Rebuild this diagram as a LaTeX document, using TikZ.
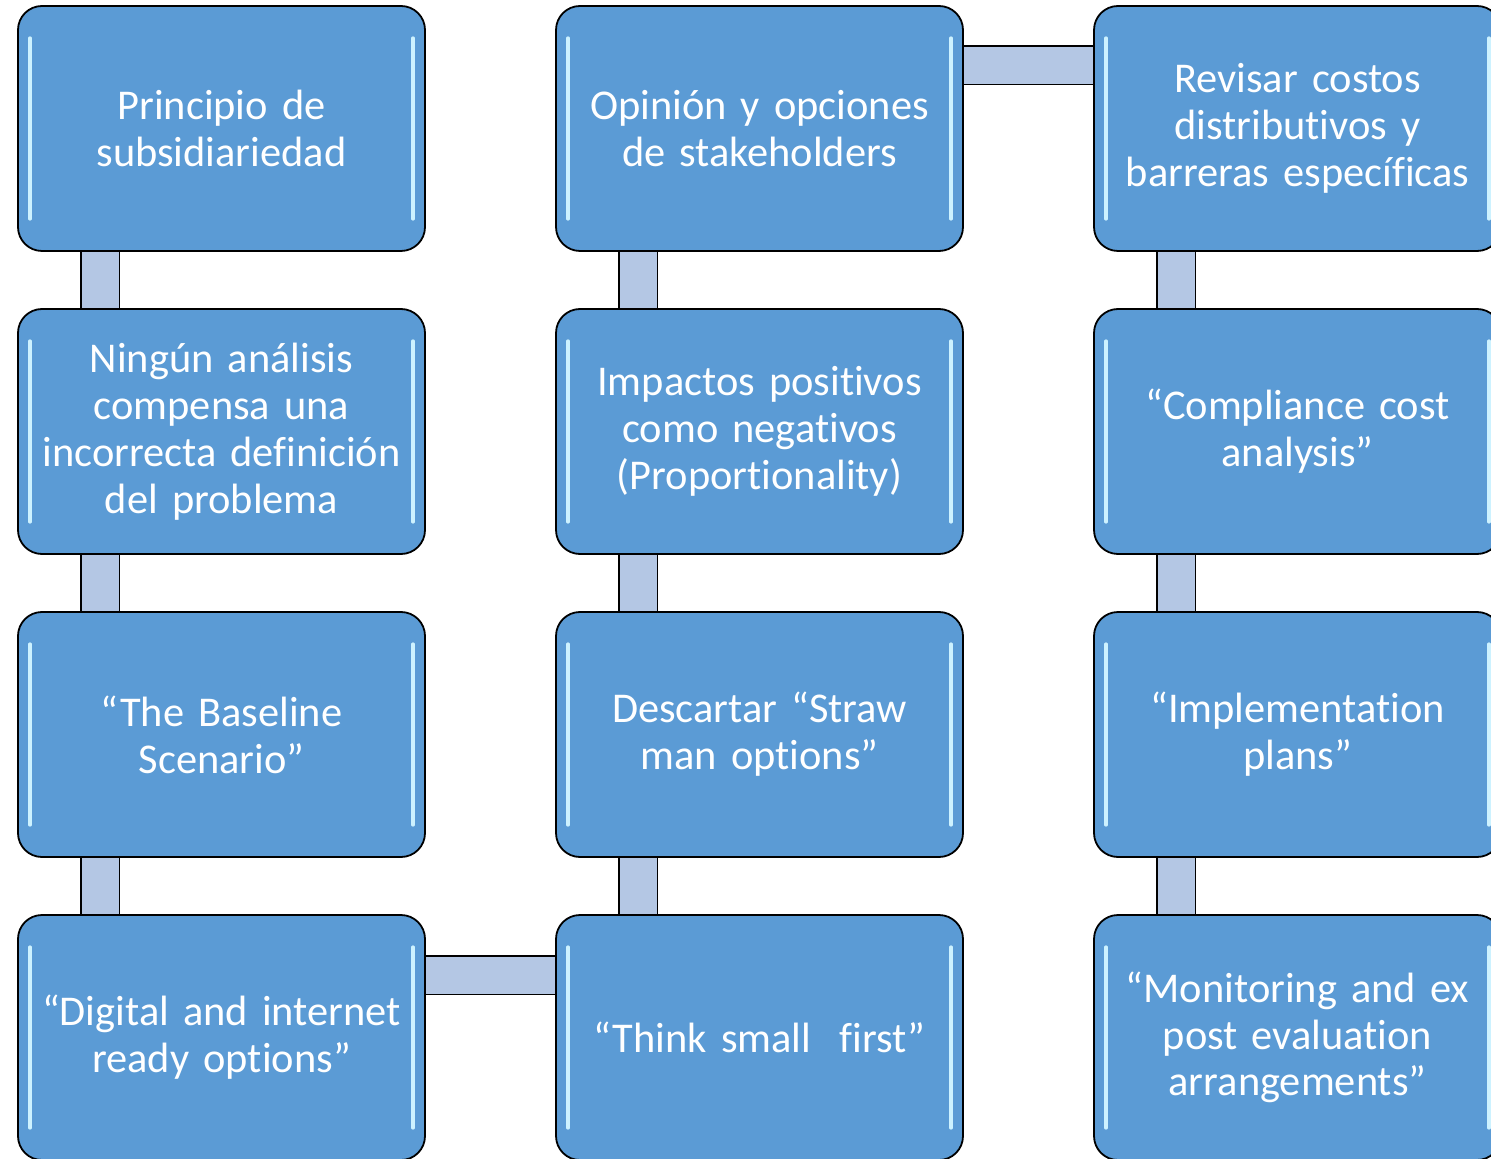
\documentclass[tikz,border=0pt]{standalone}
\usepackage{fontspec}
\setmainfont{Carlito}[Ligatures=NoCommon,WordSpace=0.75]
\usepackage{tikz}
\usetikzlibrary{backgrounds}
\definecolor{boxblue}{RGB}{91,155,213}
\definecolor{linkblue}{RGB}{180,199,228}
\definecolor{glow}{RGB}{205,242,255}

\begin{document}
\begin{tikzpicture}
[x=0.5pt,y=-0.5pt
,box/.style={draw=black,line width=0.9pt,rounded corners=12pt,fill=boxblue
  ,minimum width=203.5pt,minimum height=122.5pt,text width=196pt,inner xsep=2pt,align=center
  ,text=white,font=\fontsize{21.2}{23.4}\selectfont
  ,path picture={
    \draw[glow,line width=1.6pt,line cap=round]
      ([xshift=6pt,yshift=-16pt]path picture bounding box.north west)
      -- ([xshift=6pt,yshift=16pt]path picture bounding box.south west);
    \draw[glow,line width=1.6pt,line cap=round]
      ([xshift=-6pt,yshift=-16pt]path picture bounding box.north east)
      -- ([xshift=-6pt,yshift=16pt]path picture bounding box.south east);}}
,link/.style={draw=black,line width=0.7pt,double=linkblue,double distance=18.5pt}
]
\clip (0,0) rectangle (1491,1159);
\useasboundingbox (0,0) rectangle (1491,1159);
\node[box] (p1) at (221.5,128.5) {Principio de\\subsidiariedad};
\node[box] (p2) at (221.5,431.5) {Ningún análisis\\compensa una\\incorrecta definición\\del problema};
\node[box] (p3) at (221.5,734.5) {“The Baseline\\Scenario”};
\node[box] (p4) at (221.5,1037.5) {“Digital and internet\\ready options”};
\node[box] (s1) at (759.5,128.5) {Opinión y opciones\\de stakeholders};
\node[box] (s2) at (759.5,431.5) {Impactos positivos\\como negativos\\(Proportionality)};
\node[box] (s3) at (759.5,734.5) {Descartar “Straw\\man options”};
\node[box] (s4) at (759.5,1037.5) {“Think small\ \ first”};
\node[box] (r1) at (1297.5,128.5) {Revisar costos\\distributivos y\\barreras específicas};
\node[box] (r2) at (1297.5,431.5) {“Compliance cost\\analysis”};
\node[box] (r3) at (1297.5,734.5) {“Implementation\\plans”};
\node[box] (r4) at (1297.5,1037.5) {“Monitoring and ex\\post evaluation\\arrangements”};
\begin{scope}[on background layer]
\draw[link] ([xshift=41.5pt]p1.south west) -- ([xshift=41.5pt]p2.north west);
\draw[link] ([xshift=41.5pt]p2.south west) -- ([xshift=41.5pt]p3.north west);
\draw[link] ([xshift=41.5pt]p3.south west) -- ([xshift=41.5pt]p4.north west);
\draw[link] ([yshift=-30.5pt]p4.north east) -- ([yshift=-30.5pt]s4.north west);
\draw[link] ([xshift=41.5pt]s4.north west) -- ([xshift=41.5pt]s3.south west);
\draw[link] ([xshift=41.5pt]s3.north west) -- ([xshift=41.5pt]s2.south west);
\draw[link] ([xshift=41.5pt]s2.north west) -- ([xshift=41.5pt]s1.south west);
\draw[link] ([yshift=-30pt]s1.north east) -- ([yshift=-30pt]r1.north west);
\draw[link] ([xshift=41.5pt]r1.south west) -- ([xshift=41.5pt]r2.north west);
\draw[link] ([xshift=41.5pt]r2.south west) -- ([xshift=41.5pt]r3.north west);
\draw[link] ([xshift=41.5pt]r3.south west) -- ([xshift=41.5pt]r4.north west);
\end{scope}
\end{tikzpicture}
\end{document}
